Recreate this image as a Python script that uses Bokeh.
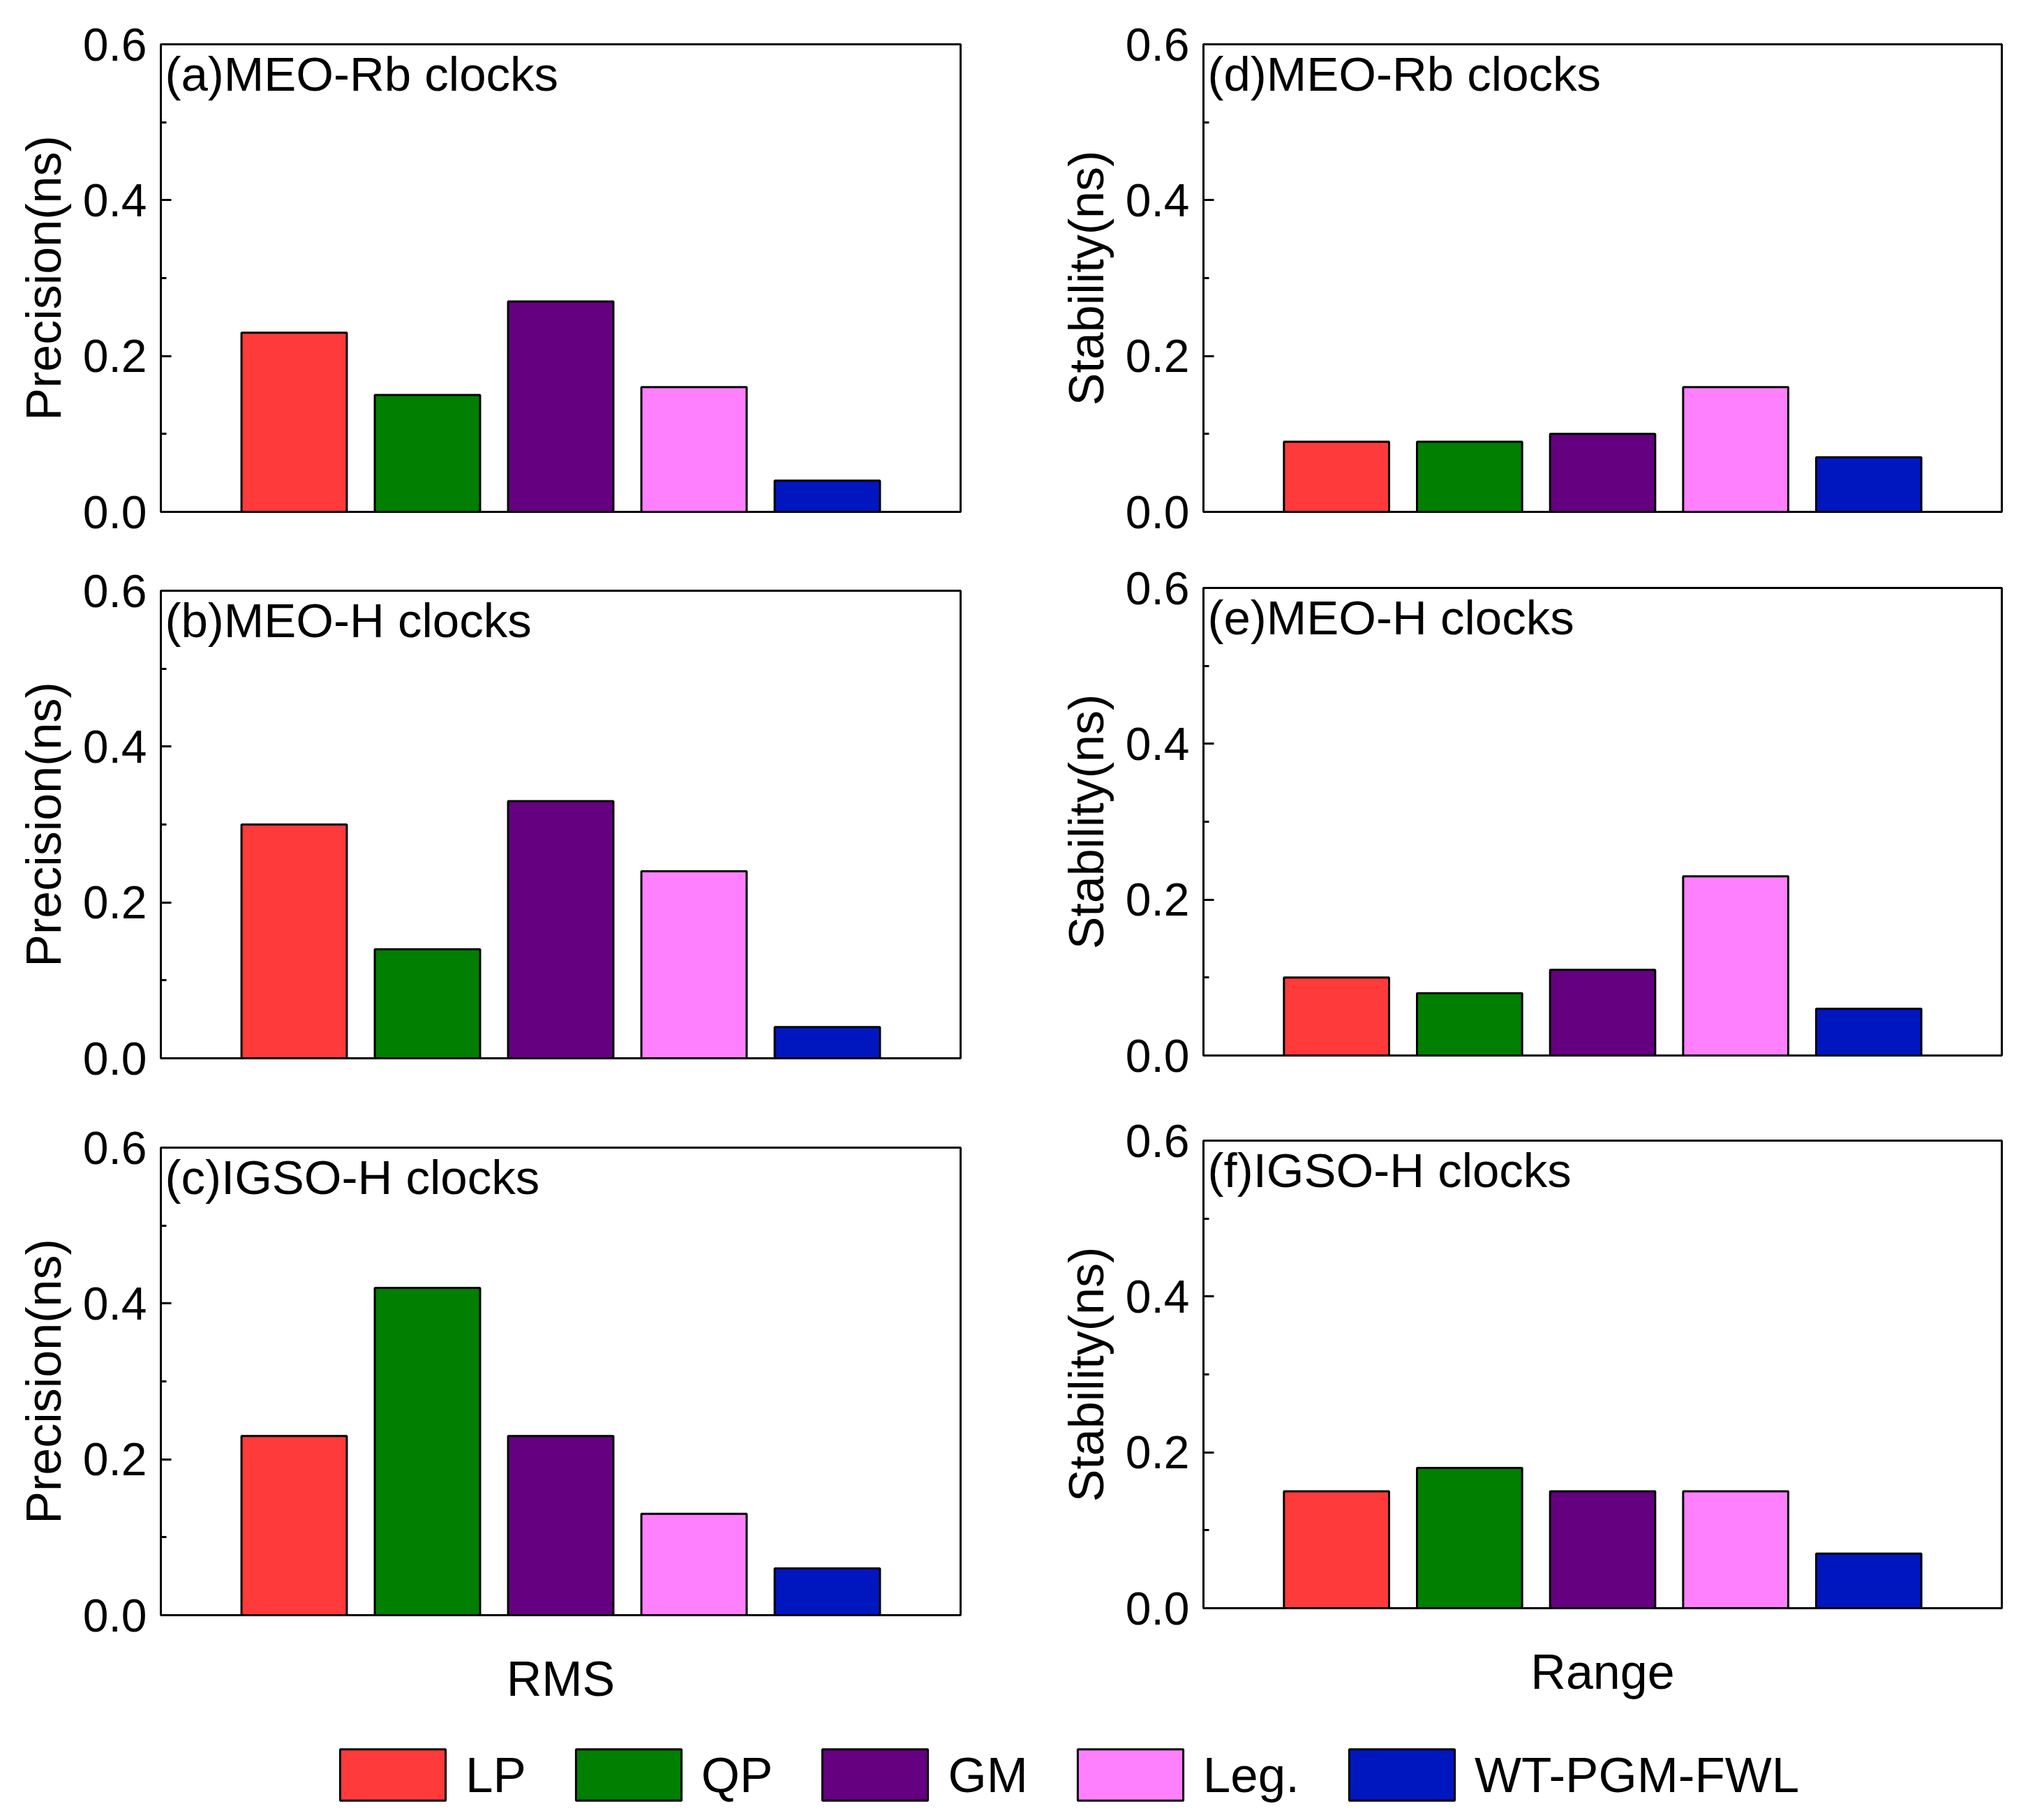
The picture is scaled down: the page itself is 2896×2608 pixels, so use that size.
from bokeh.plotting import figure
from bokeh.models import (Range1d, FixedTicker, PrintfTickFormatter, Label,
                          Legend, LegendItem, ColumnDataSource)
from bokeh.layouts import column, row
from bokeh.embed import file_html
from bokeh.resources import INLINE

FONT = "Liberation Sans"

# ---------------- data ----------------
methods = ["LP", "QP", "GM", "Leg.", "WT-PGM-FWL"]
colors = ["#FF3A3A", "#007F00", "#650080", "#FF80FF", "#0017C0"]

precision_meo_rb = [0.23, 0.15, 0.27, 0.16, 0.04]
precision_meo_h = [0.30, 0.14, 0.33, 0.24, 0.04]
precision_igso_h = [0.23, 0.42, 0.23, 0.13, 0.06]

stability_meo_rb = [0.09, 0.09, 0.10, 0.16, 0.07]
stability_meo_h = [0.10, 0.08, 0.11, 0.23, 0.06]
stability_igso_h = [0.15, 0.18, 0.15, 0.15, 0.07]

panel_titles = ["(a)MEO-Rb clocks", "(b)MEO-H clocks", "(c)IGSO-H clocks",
                "(d)MEO-Rb clocks", "(e)MEO-H clocks", "(f)IGSO-H clocks"]
y_major = [0.0, 0.2, 0.4, 0.6]
y_minor = [0.1, 0.3, 0.5]
y_max = 0.6


def panel(values, title, ylabel, xlabel, fw, fh, bl, br, bt, bb):
    n = len(methods)
    p = figure(frame_width=fw, frame_height=fh,
               x_range=Range1d(0, n + 1), y_range=Range1d(0, y_max),
               output_backend="svg", toolbar_location=None,
               min_border_left=bl, min_border_right=br,
               min_border_top=bt, min_border_bottom=bb,
               background_fill_color="white", border_fill_color="white")
    p.grid.visible = False
    p.outline_line_color = "black"
    p.outline_line_width = 3
    p.outline_line_alpha = 1.0

    src = ColumnDataSource(dict(x=list(range(1, n + 1)), top=values,
                                color=colors, method=methods))
    p.vbar(x="x", top="top", bottom=0, width=0.79, source=src,
           fill_color="color", line_color="black", line_width=3)

    ya = p.yaxis[0]
    ya.ticker = FixedTicker(ticks=y_major, minor_ticks=y_minor)
    ya.formatter = PrintfTickFormatter(format="%.1f")
    ya.major_tick_in = 15
    ya.major_tick_out = 0
    ya.minor_tick_in = 8
    ya.minor_tick_out = 0
    ya.major_tick_line_width = 3
    ya.minor_tick_line_width = 3
    ya.axis_line_width = 3
    ya.major_label_standoff = 20
    ya.major_label_text_font = FONT
    ya.major_label_text_font_size = "66px"
    ya.major_label_text_color = "black"
    ya.axis_label = ylabel
    ya.axis_label_text_font = FONT
    ya.axis_label_text_font_size = "70px"
    ya.axis_label_text_font_style = "normal"
    ya.axis_label_text_color = "black"
    ya.axis_label_standoff = 14

    xa = p.xaxis[0]
    xa.ticker = FixedTicker(ticks=[])
    xa.major_tick_in = 0
    xa.major_tick_out = 0
    xa.minor_tick_in = 0
    xa.minor_tick_out = 0
    xa.major_label_standoff = 0
    xa.axis_line_width = 3
    if xlabel:
        xa.axis_label = xlabel
        xa.axis_label_text_font = FONT
        xa.axis_label_text_font_size = "70px"
        xa.axis_label_text_font_style = "normal"
        xa.axis_label_text_color = "black"
        xa.axis_label_standoff = 52

    p.add_layout(Label(x=0, y=y_max, x_offset=6, y_offset=-43, text=title,
                       text_font=FONT, text_font_size="69px",
                       text_color="black", text_baseline="alphabetic"))
    return p


FW_L, FW_R, FH = 1146, 1144, 670

pa = panel(precision_meo_rb, panel_titles[0], "Precision(ns)", None, FW_L, FH, 230, 60, 63, 50)
pb = panel(precision_meo_h, panel_titles[1], "Precision(ns)", None, FW_L, FH, 230, 60, 63, 50)
pc = panel(precision_igso_h, panel_titles[2], "Precision(ns)", "RMS", FW_L, FH, 230, 60, 78, 140)

pd = panel(stability_meo_rb, panel_titles[3], "Stability(ns)", None, FW_R, FH, 288, 20, 63, 50)
pe = panel(stability_meo_h, panel_titles[4], "Stability(ns)", None, FW_R, FH, 288, 20, 59, 50)
pf = panel(stability_igso_h, panel_titles[5], "Stability(ns)", "Range", FW_R, FH, 288, 20, 72, 150)

# ---------------- legend strip ----------------
lg = figure(width=2888, height=138, output_backend="svg", toolbar_location=None,
            x_axis_location=None, y_axis_location=None,
            x_range=Range1d(0, len(methods) + 1), y_range=Range1d(0, y_max),
            min_border=0, min_border_left=0, min_border_right=0,
            min_border_top=0, min_border_bottom=0,
            background_fill_color="white", border_fill_color="white")
lg.grid.visible = False
lg.outline_line_color = None
items = []
for i, (m, c) in enumerate(zip(methods, colors)):
    r = lg.vbar(x=[i + 1], top=[precision_meo_rb[i]], bottom=0, width=0.79,
                fill_color=c, line_color="black", line_width=3)
    r.visible = False
    items.append(LegendItem(label=m, renderers=[r]))
legend = Legend(items=items, location=(468, 3), orientation="horizontal",
                glyph_width=189, glyph_height=92, label_height=92,
                label_standoff=10, spacing=52, padding=0, margin=0,
                border_line_color=None, background_fill_alpha=0,
                label_text_font=FONT, label_text_font_size="71px",
                label_text_color="black", click_policy="none")
lg.add_layout(legend)

layout = column(row(column(pa, pb, pc), column(pd, pe, pf)), lg)

open("out.html", "w").write(file_html(layout, INLINE))
